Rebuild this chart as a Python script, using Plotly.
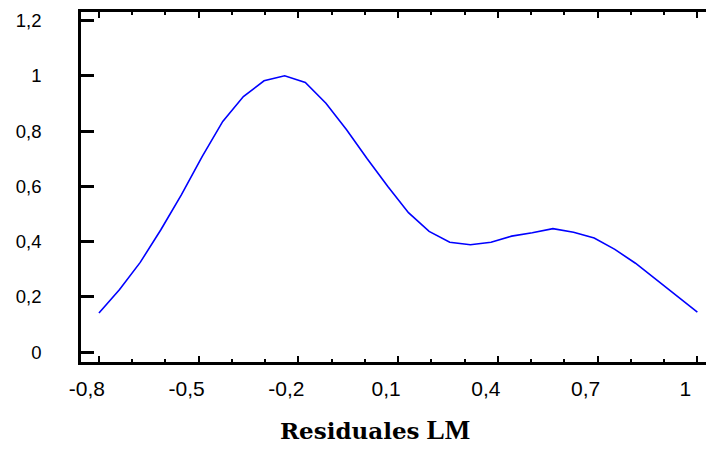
import plotly.graph_objects as go

# Data
x_start, x_end, n_pts = -0.8, 1.0, 30
residuales = [x_start + i * (x_end - x_start) / (n_pts - 1) for i in range(n_pts)]
densidad = [0.142, 0.227, 0.325, 0.443, 0.570, 0.708, 0.835, 0.925, 0.982, 1.000,
            0.976, 0.901, 0.805, 0.700, 0.600, 0.505, 0.437, 0.398, 0.389, 0.398,
            0.420, 0.432, 0.447, 0.434, 0.413, 0.372, 0.322, 0.262, 0.202, 0.145]

x_ticks = [-0.8, -0.5, -0.2, 0.1, 0.4, 0.7, 1.0]
x_tick_labels = ["-0,8", "-0,5", "-0,2", "0,1", "0,4", "0,7", "1"]
y_ticks = [0, 0.2, 0.4, 0.6, 0.8, 1.0, 1.2]
y_tick_labels = ["0", "0,2", "0,4", "0,6", "0,8", "1", "1,2"]

x_range = [-0.854, 1.026]
y_range = [-0.0354, 1.231]

fig = go.Figure()
fig.add_trace(go.Scatter(x=residuales, y=densidad, mode="lines",
                         line=dict(color="#0000FF", width=1.6),
                         showlegend=False, hoverinfo="skip"))

fig.update_layout(
    width=706, height=451,
    margin=dict(l=81, r=0, t=12, b=89),
    paper_bgcolor="white", plot_bgcolor="white",
    font=dict(family="Liberation Sans, Arial", color="black"),
    xaxis=dict(
        range=x_range, tickmode="array", tickvals=x_ticks, ticktext=x_tick_labels,
        ticks="inside", ticklen=6, tickwidth=2, tickcolor="black",
        minor=dict(dtick=0.1, tick0=-0.8, ticks="inside", ticklen=3, tickwidth=2, tickcolor="black", showgrid=False),
        showline=True, linecolor="black", linewidth=3, mirror="ticks",
        showgrid=False, zeroline=False,
        tickfont=dict(size=21, family="Liberation Sans, Arial", color="black"),
        ticklabelstandoff=6, ticklabelshift=-12,
    ),
    yaxis=dict(
        range=y_range, tickmode="array", tickvals=y_ticks, ticktext=y_tick_labels,
        ticks="inside", ticklen=13, tickwidth=2.5, tickcolor="black",
        showline=True, linecolor="black", linewidth=2.7, mirror=False,
        showgrid=False, zeroline=False,
        tickfont=dict(size=18.5, family="Liberation Sans, Arial", color="black"),
        ticklabelstandoff=33,
    ),
    yaxis2=dict(
        range=y_range, overlaying="y", side="right", tickmode="array", tickvals=y_ticks,
        ticks="inside", ticklen=3, tickwidth=2.5, tickcolor="black",
        showticklabels=False, showline=False, showgrid=False, zeroline=False,
    ),
)

fig.add_annotation(
    xref="paper", yref="paper", x=(375 - 81) / 625, y=-0.195,
    xanchor="center", yanchor="middle", showarrow=False,
    text=("<b>Residuales</b> "
          "<span style='font-family:Liberation Serif, Times New Roman;font-size:27px'><b>LM</b></span>"),
    font=dict(family="DejaVu Serif", size=23, color="black"),
)

fig.write_html("out.html")
